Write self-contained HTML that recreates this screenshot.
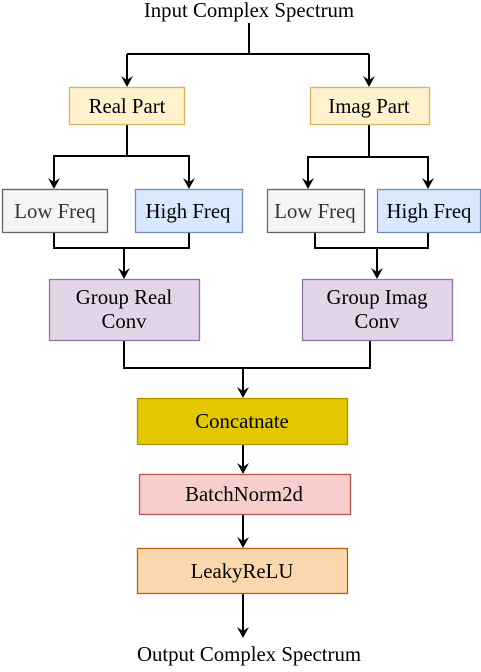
<!DOCTYPE html>
<html><head><style>html,body{margin:0;padding:0;background:#fff}</style></head>
<body>
<svg width="481" height="667" viewBox="0 0 481 667" xmlns="http://www.w3.org/2000/svg">
<g fill="none" stroke="#000" stroke-width="2">
<path d="M249,23 V54"/>
<path d="M127,54 H369"/>
<path d="M127,54 V80"/>
<path d="M369,54 V80"/>
<path d="M127,125 V156 H54 V182"/>
<path d="M127,156 H189 V182"/>
<path d="M369,125 V157 H308 V182"/>
<path d="M369,157 H428 V182"/>
<path d="M54,232 V248 H189 V232"/>
<path d="M124,248 V272"/>
<path d="M315,232 V248 H428 V232"/>
<path d="M377,248 V272"/>
<path d="M124,340 V368 H370 V340"/>
<path d="M243,368 V391"/>
<path d="M243,444 V467"/>
<path d="M243,514 V541"/>
<path d="M243,593 V631"/>
</g>
<g fill="#000">
<path d="M121,76 L127,80 L133,76 L127,87 Z"/>
<path d="M363,76 L369,80 L375,76 L369,87 Z"/>
<path d="M48,178 L54,182 L60,178 L54,189 Z"/>
<path d="M183,178 L189,182 L195,178 L189,189 Z"/>
<path d="M302,178 L308,182 L314,178 L308,189 Z"/>
<path d="M422,178 L428,182 L434,178 L428,189 Z"/>
<path d="M118,268 L124,272 L130,268 L124,279 Z"/>
<path d="M371,268 L377,272 L383,268 L377,279 Z"/>
<path d="M237,387 L243,391 L249,387 L243,398 Z"/>
<path d="M237,463 L243,467 L249,463 L243,474 Z"/>
<path d="M237,537 L243,541 L249,537 L243,548 Z"/>
<path d="M237,627 L243,631 L249,627 L243,638 Z"/>
</g>
<g stroke-width="1.3">
<rect x="69.5" y="87.5" width="115" height="37" fill="#fff2cc" stroke="#d6b656"/>
<rect x="310.5" y="87.5" width="119" height="37" fill="#fff2cc" stroke="#d6b656"/>
<rect x="2.5" y="189.5" width="105" height="43" fill="#f5f5f5" stroke="#666"/>
<rect x="135.5" y="189.5" width="107" height="43" fill="#dae8fc" stroke="#6c8ebf"/>
<rect x="267.5" y="189.5" width="97" height="43" fill="#f5f5f5" stroke="#666"/>
<rect x="377.5" y="189.5" width="103" height="43" fill="#dae8fc" stroke="#6c8ebf"/>
<rect x="49.5" y="279.5" width="150" height="61" fill="#e1d5e7" stroke="#9673a6"/>
<rect x="302.5" y="279.5" width="150" height="61" fill="#e1d5e7" stroke="#9673a6"/>
<rect x="137.5" y="398.5" width="210" height="46" fill="#e3c800" stroke="#b09500"/>
<rect x="139.5" y="474.5" width="211" height="40" fill="#f8cecc" stroke="#b85450"/>
<rect x="137.5" y="548.5" width="210" height="45" fill="#fad7ac" stroke="#b46504"/>
</g>
<g text-anchor="middle" fill="#000" style="font-family:'Liberation Serif','Times New Roman',serif;font-size:20.8px">
<text x="249" y="17">Input Complex Spectrum</text>
<text x="127" y="113">Real Part</text>
<text x="369" y="113">Imag Part</text>
<text x="55" y="218" fill="#333">Low Freq</text>
<text x="188" y="218">High Freq</text>
<text x="315" y="218" fill="#333">Low Freq</text>
<text x="429" y="218">High Freq</text>
<text x="124" y="304">Group Real</text>
<text x="124" y="328">Conv</text>
<text x="377" y="304">Group Imag</text>
<text x="377" y="328">Conv</text>
<text x="242" y="428">Concatnate</text>
<text x="244" y="501">BatchNorm2d</text>
<text x="242" y="578">LeakyReLU</text>
<text x="249" y="661">Output Complex Spectrum</text>
</g>
</svg>
</body></html>
